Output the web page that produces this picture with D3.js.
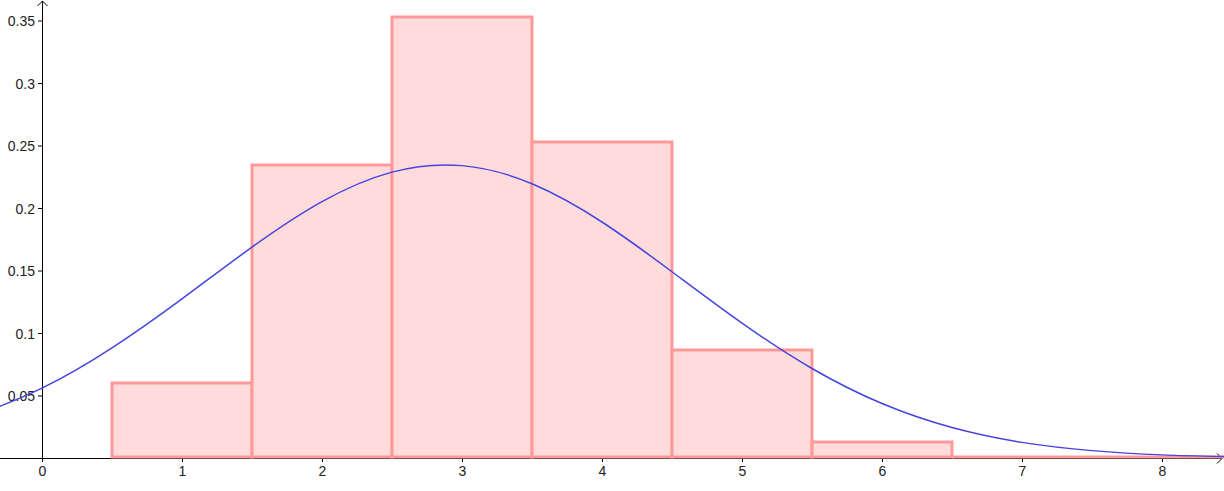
<!DOCTYPE html>
<html>
<head>
<meta charset="utf-8">
<script src="https://cdn.jsdelivr.net/npm/d3@7"></script>
<style>
  html, body { margin: 0; padding: 0; background: #ffffff; }
  svg { display: block; }
</style>
</head>
<body>
<svg id="drawing_region"></svg>
<script>
// histogram classes (left edge, right edge) and heights
const bin_starts = [0.5, 1.5, 2.5, 3.5, 4.5, 5.5, 6.5, 7.5];
const bin_ends   = [1.5, 2.5, 3.5, 4.5, 5.5, 6.5, 7.5, 8.5];
const bin_heights = [0.06, 0.2344, 0.3528, 0.2528, 0.0864, 0.0128, 0.0008, 0];

// density curve
const curve_x = [-0.5, 0, 0.5, 1, 1.5, 2, 2.5, 3, 3.5, 4, 4.5, 5, 5.5, 6, 6.5, 7, 7.5, 8, 8.5];
const curve_y = [0.0326, 0.0559, 0.0881, 0.1273, 0.1687, 0.2051, 0.2287, 0.2339, 0.2194, 0.1888,
                 0.1490, 0.1079, 0.0716, 0.0436, 0.0244, 0.0125, 0.0059, 0.0025, 0.0010];

const x_ticks = [0, 1, 2, 3, 4, 5, 6, 7, 8];
const y_ticks = [0.05, 0.1, 0.15, 0.2, 0.25, 0.3, 0.35];

class Histogram {

    constructor( config ) {
        this.config = {
            parent: config.parent,
            width: config.width || 1224,
            height: config.height || 491,
            origin: config.origin || {x:42, y:458},
            unit: config.unit || {x:140, y:1250}
        };
        this.init();
    }

    init() {
        let self = this;
        const c = self.config;

        self.svg = d3.select( c.parent )
            .attr('width', c.width)
            .attr('height', c.height);

        // world coords -> pixels
        self.xscale = d3.scaleLinear()
            .domain( [0, 1] )
            .range( [c.origin.x, c.origin.x + c.unit.x] );
        self.yscale = d3.scaleLinear()
            .domain( [0, 1] )
            .range( [c.origin.y, c.origin.y - c.unit.y] );

        self.axis_layer = self.svg.append('g');
        self.bar_layer = self.svg.append('g');
        self.curve_layer = self.svg.append('g');
    }

    update() {
        this.bars = bin_starts.map( (s, i) => ({x0: s, x1: bin_ends[i], h: bin_heights[i]}) );
        this.points = curve_x.map( (x, i) => ({x: x, y: curve_y[i]}) );
        this.render();
    }

    render() {
        let self = this;
        const c = self.config;
        const ox = self.xscale(0), oy = self.yscale(0);

        // x axis across the view, y axis from origin to top
        self.axis_layer.append('line')
            .attr('x1', 0).attr('y1', oy + 0.5)
            .attr('x2', c.width - 2).attr('y2', oy + 0.5)
            .attr('stroke', '#000').attr('stroke-width', 1);
        self.axis_layer.append('path')
            .attr('d', `M${c.width - 7},${oy - 4.5} L${c.width - 2},${oy + 0.5} L${c.width - 7},${oy + 5.5}`)
            .attr('fill', 'none').attr('stroke', '#000').attr('stroke-width', 1);

        self.axis_layer.append('line')
            .attr('x1', ox + 0.5).attr('y1', oy)
            .attr('x2', ox + 0.5).attr('y2', 1)
            .attr('stroke', '#000').attr('stroke-width', 1);
        self.axis_layer.append('path')
            .attr('d', `M${ox - 4.5},${6} L${ox + 0.5},${1} L${ox + 5.5},${6}`)
            .attr('fill', 'none').attr('stroke', '#000').attr('stroke-width', 1);

        // x ticks and labels
        const xt = self.axis_layer.selectAll('.xtick')
            .data(x_ticks)
            .enter()
            .append('g')
            .attr('class', 'xtick')
            .attr('transform', d => `translate(${self.xscale(d) + 0.5}, ${oy})`);
        xt.append('line')
            .attr('y1', 0).attr('y2', 4)
            .attr('stroke', '#000');
        xt.append('text')
            .attr('y', 18)
            .attr('text-anchor', 'middle')
            .attr('font-family', 'Liberation Sans, Arial, sans-serif')
            .attr('font-size', '14px')
            .attr('fill', '#222')
            .text(d => d);

        // y ticks and labels
        const yt = self.axis_layer.selectAll('.ytick')
            .data(y_ticks)
            .enter()
            .append('g')
            .attr('class', 'ytick')
            .attr('transform', d => `translate(${ox}, ${self.yscale(d) + 0.5})`);
        yt.append('line')
            .attr('x1', -4).attr('x2', 0)
            .attr('stroke', '#000');
        yt.append('text')
            .attr('x', -7)
            .attr('y', 5)
            .attr('text-anchor', 'end')
            .attr('font-family', 'Liberation Sans, Arial, sans-serif')
            .attr('font-size', '14px')
            .attr('fill', '#222')
            .text(d => d);

        // bars as closed paths so empty classes still show their outline
        self.bar_layer.selectAll('path')
            .data(self.bars)
            .enter()
            .append('path')
            .attr('d', d => {
                const x0 = self.xscale(d.x0), x1 = self.xscale(d.x1);
                const y0 = self.yscale(0) - 1, y1 = Math.min(self.yscale(d.h), y0);
                return `M${x0},${y0} V${y1} H${x1} V${y0} Z`;
            })
            .attr('fill', '#ffdbdb')
            .attr('stroke', '#ff9999')
            .attr('stroke-width', 3);

        // density curve
        const line = d3.line()
            .x(d => self.xscale(d.x))
            .y(d => self.yscale(d.y))
            .curve(d3.curveNatural);

        self.curve_layer.append('path')
            .datum(self.points)
            .attr('d', line)
            .attr('fill', 'none')
            .attr('stroke', '#4444e0')
            .attr('stroke-width', 1.5);
    }
}

const config = {
    parent: '#drawing_region',
    width: 1224,
    height: 491,
    origin: {x:42, y:458},
    unit: {x:140, y:1250}
};

const histogram = new Histogram( config );
histogram.update();
</script>
</body>
</html>
